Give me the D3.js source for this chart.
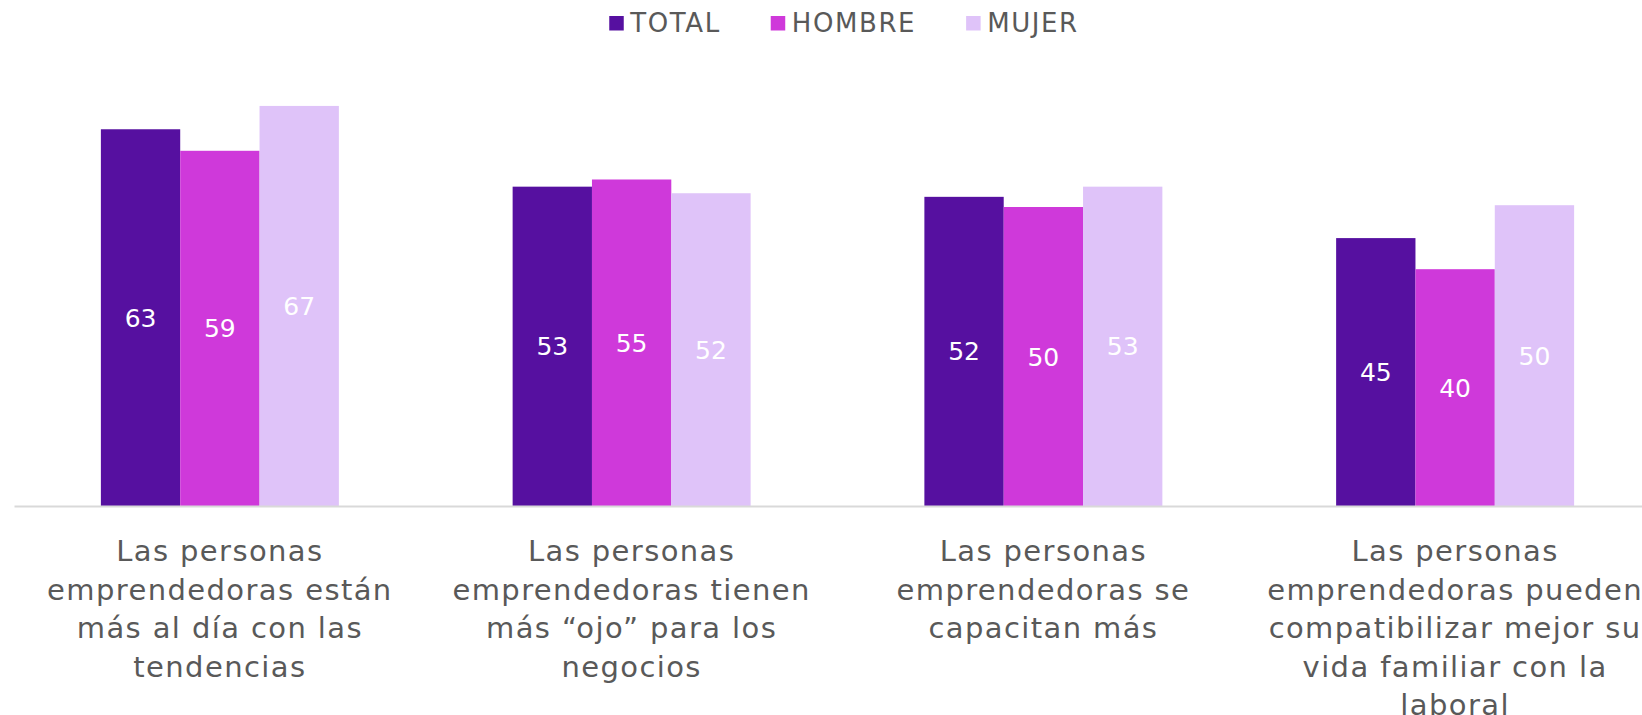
<!DOCTYPE html>
<html>
<head>
<meta charset="utf-8">
<script src="https://cdn.jsdelivr.net/npm/d3@7"></script>
<style>
  body { margin: 0; background: #fff; }
  text { font-family: "DejaVu Sans", sans-serif; }
</style>
</head>
<body>
<div id="chart"></div>
<script>
(function() {
  // categories (already split into lines as in the original)
  const categories = [
    ["Las personas", "emprendedoras están", "más al día con las", "tendencias"],
    ["Las personas", "emprendedoras tienen", "más “ojo” para los", "negocios"],
    ["Las personas", "emprendedoras se", "capacitan más"],
    ["Las personas", "emprendedoras pueden", "compatibilizar mejor su", "vida familiar con la", "laboral"]
  ];
  const series = ["TOTAL", "HOMBRE", "MUJER"];
  // values (labels are shown rounded)
  const total = [63.0, 53.4, 51.7, 44.8];
  const hombre = [59.4, 54.6, 50.0, 39.6];
  const mujer = [66.9, 52.3, 53.4, 50.3];
  const colors = ["#5610a0", "#cf39da", "#dfc3f9"];

  const width = 1642, height = 715;
  const baseY = 506;

  const svg = d3.select("#chart").append("svg")
    .attr("width", width)
    .attr("height", height);

  const x0 = d3.scaleBand()
    .domain(d3.range(categories.length))
    .range([14, 1661])
    .paddingInner(0.422)
    .paddingOuter(0.211);

  const x1 = d3.scaleBand()
    .domain(series)
    .range([0, x0.bandwidth()])
    .padding(0);

  const y = d3.scaleLinear()
    .domain([0, 70])
    .range([baseY, baseY - 70 * 5.98]);

  const fmt = d3.format(".0f");

  const data = categories.map((c, i) => ({
    idx: i,
    values: [total[i], hombre[i], mujer[i]]
  }));

  // bars
  const groups = svg.selectAll("g.layer")
    .data(data)
    .enter().append("g")
    .attr("class", "layer")
    .attr("transform", d => `translate(${x0(d.idx)},0)`);

  groups.selectAll("rect")
    .data(d => series.map((s, k) => ({ key: s, k: k, value: d.values[k] })))
    .enter().append("rect")
    .attr("x", d => x1(d.key))
    .attr("y", d => y(d.value))
    .attr("width", x1.bandwidth())
    .attr("height", d => y(0) - y(d.value))
    .attr("fill", d => colors[d.k]);

  // value labels in the middle of each bar
  groups.selectAll("text.val")
    .data(d => series.map((s, k) => ({ key: s, k: k, value: d.values[k] })))
    .enter().append("text")
    .attr("class", "val")
    .attr("x", d => x1(d.key) + x1.bandwidth() / 2)
    .attr("y", d => (y(d.value) + y(0)) / 2)
    .attr("dy", "0.36em")
    .attr("text-anchor", "middle")
    .attr("fill", "#ffffff")
    .attr("font-size", 25)
    .text(d => fmt(d.value));

  // baseline
  svg.append("g")
    .attr("transform", `translate(0,${baseY})`)
    .call(d3.axisBottom(x0).tickSize(0).tickFormat(""))
    .call(g => g.select(".domain").attr("stroke", "#d9d9d9").attr("stroke-width", 2));

  // category labels
  const lab = svg.selectAll("text.cat")
    .data(categories)
    .enter().append("text")
    .attr("class", "cat")
    .attr("text-anchor", "middle")
    .attr("fill", "#595959")
    .attr("font-size", 29)
    .attr("letter-spacing", 1.4);

  lab.selectAll("tspan")
    .data((d, i) => d.map(line => ({ line: line, i: i })))
    .enter().append("tspan")
    .attr("x", d => x0(d.i) + x0.bandwidth() / 2)
    .attr("y", (d, j) => 561 + j * 38.5)
    .text(d => d.line);

  // legend
  const legend = svg.append("g");
  let cx = 0;
  series.forEach((s, k) => {
    const g = legend.append("g").attr("transform", `translate(${cx},0)`);
    g.append("rect")
      .attr("x", 0).attr("y", 16)
      .attr("width", 14.5).attr("height", 14.5)
      .attr("fill", colors[k]);
    const t = g.append("text")
      .attr("x", 21).attr("y", 32)
      .attr("fill", "#595959")
      .attr("font-size", 26)
      .attr("letter-spacing", 1.6)
      .text(s);
    cx += 21 + t.node().getComputedTextLength() + 50;
  });
  const lw = cx - 50;
  legend.attr("transform", `translate(${844 - lw / 2},0)`);
})();
</script>
</body>
</html>
